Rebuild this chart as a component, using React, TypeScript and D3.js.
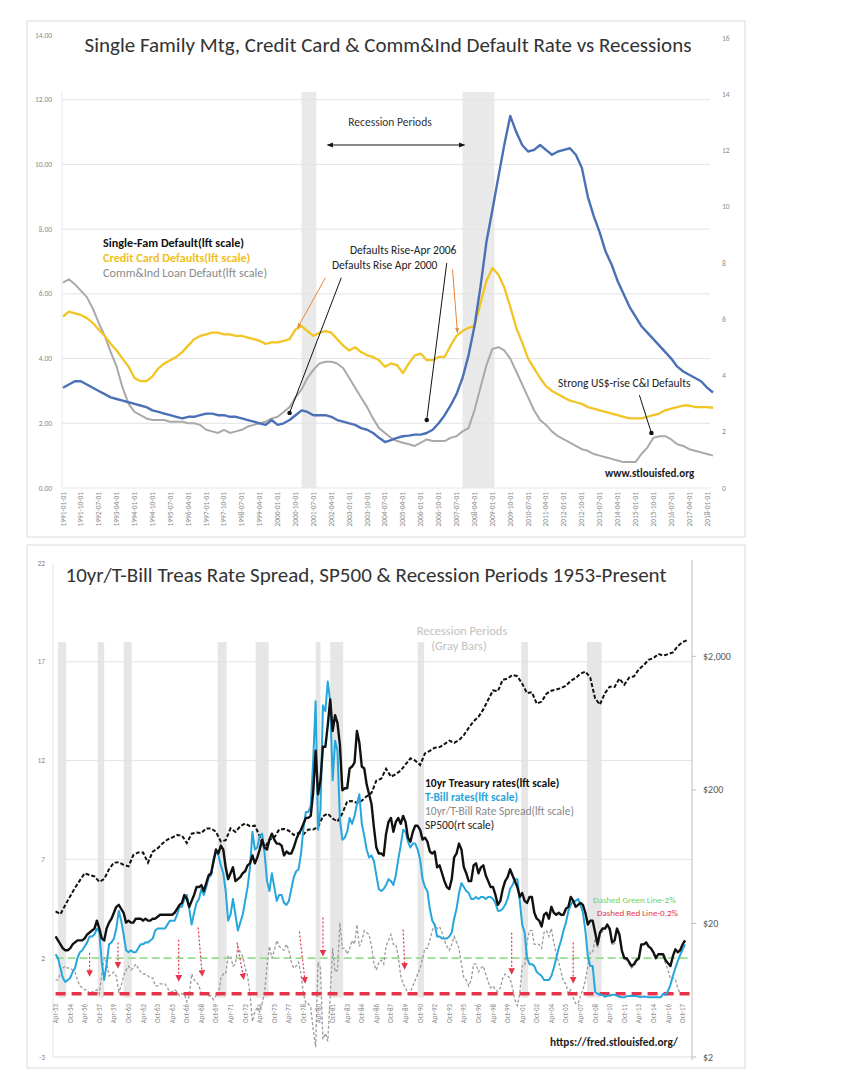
import React from "react";
import * as d3 from "d3";

const FONT = "Carlito, Lato, 'Open Sans', sans-serif";

// ================= TOP CHART DATA (quarterly, 1991Q1 - 2018Q2) =================
const topQuarters = d3.timeMonth.range(new Date(1991, 0, 1), new Date(2018, 6, 1), 3);
const topLabelDates = d3.timeMonth.range(new Date(1991, 0, 1), new Date(2018, 1, 1), 9);
const topLeftTicks = [0, 2, 4, 6, 8, 10, 12, 14];
const topRightTicks = [0, 2, 4, 6, 8, 10, 12, 14, 16];
const topGridTicks = [2, 4, 6, 8, 10, 12];
const topRecessions: [string, string][] = [
  ["2001-01-01", "2001-08-15"],
  ["2007-10-01", "2009-02-01"],
];

const singleFamDefault = [
  3.1, 3.2, 3.3, 3.3, 3.2, 3.1, 3.0, 2.9, 2.8, 2.75, 2.7, 2.65, 2.6, 2.55, 2.5, 2.4,
  2.35, 2.3, 2.25, 2.2, 2.15, 2.2, 2.2, 2.25, 2.3, 2.3, 2.25, 2.25, 2.2, 2.2, 2.15, 2.1,
  2.05, 2.0, 1.95, 2.1, 1.95, 2.0, 2.1, 2.25, 2.4, 2.35, 2.25, 2.25, 2.25, 2.2, 2.1, 2.05,
  2.0, 1.95, 1.85, 1.8, 1.7, 1.55, 1.42, 1.48, 1.55, 1.6, 1.62, 1.65, 1.65, 1.7, 1.8, 2.0,
  2.25, 2.55, 2.9, 3.4, 4.1, 5.0, 6.2, 7.6, 8.6, 9.6, 10.6, 11.5, 11.0, 10.6, 10.4, 10.45,
  10.6, 10.45, 10.3, 10.4, 10.45, 10.5, 10.3, 9.9, 9.0, 8.4, 7.9, 7.3, 6.9, 6.4, 6.0, 5.6,
  5.3, 5.0, 4.8, 4.6, 4.4, 4.2, 4.0, 3.75, 3.6, 3.5, 3.4, 3.3, 3.1, 2.95,
];
const creditCardDefault = [
  5.3, 5.45, 5.4, 5.35, 5.25, 5.1, 4.9, 4.7, 4.45, 4.25, 4.0, 3.75, 3.4, 3.3, 3.3, 3.45,
  3.7, 3.85, 3.95, 4.05, 4.2, 4.4, 4.6, 4.7, 4.75, 4.8, 4.8, 4.75, 4.75, 4.7, 4.7, 4.65,
  4.6, 4.55, 4.45, 4.5, 4.5, 4.55, 4.6, 4.9, 5.0, 4.85, 4.7, 4.8, 4.85, 4.8, 4.6, 4.4,
  4.25, 4.35, 4.2, 4.1, 4.05, 3.95, 3.75, 3.85, 3.8, 3.55, 3.85, 4.1, 4.15, 3.95, 3.95, 4.05,
  4.05, 4.4, 4.7, 4.85, 4.95, 5.0, 5.7, 6.4, 6.8, 6.6, 6.2, 5.6, 4.95, 4.5, 4.0, 3.7,
  3.4, 3.15, 3.0, 2.9, 2.8, 2.7, 2.65, 2.6, 2.5, 2.45, 2.4, 2.35, 2.3, 2.25, 2.2, 2.15,
  2.15, 2.15, 2.2, 2.25, 2.3, 2.4, 2.45, 2.5, 2.55, 2.55, 2.5, 2.5, 2.5, 2.48,
];
const commIndDefault = [
  6.35, 6.45, 6.3, 6.1, 5.9, 5.55, 5.1, 4.7, 4.2, 3.75, 3.1, 2.6, 2.35, 2.25, 2.15, 2.1,
  2.1, 2.1, 2.05, 2.05, 2.05, 2.0, 2.0, 1.95, 1.8, 1.75, 1.7, 1.8, 1.7, 1.75, 1.8, 1.9,
  1.95, 2.0, 2.05, 2.15, 2.2, 2.35, 2.5, 2.8, 3.05, 3.4, 3.65, 3.85, 3.9, 3.9, 3.85, 3.7,
  3.4, 3.1, 2.8, 2.5, 2.15, 1.85, 1.7, 1.55, 1.45, 1.4, 1.35, 1.3, 1.4, 1.5, 1.45, 1.45,
  1.45, 1.55, 1.6, 1.75, 1.85, 2.4, 3.1, 3.8, 4.3, 4.35, 4.25, 4.0, 3.6, 3.2, 2.8, 2.4,
  2.1, 1.95, 1.75, 1.6, 1.5, 1.4, 1.3, 1.2, 1.15, 1.05, 1.0, 0.95, 0.9, 0.85, 0.8, 0.8,
  0.8, 1.05, 1.25, 1.55, 1.6, 1.6, 1.5, 1.35, 1.3, 1.2, 1.15, 1.1, 1.05, 1.0,
];

// top annotations (date, left-scale value)
const topArrows = [
  { kind: "orange", from: ["2002-01-01", 6.5], to: ["2000-11-01", 4.95] },
  { kind: "black", from: ["2002-09-01", 6.5], to: ["2000-07-01", 2.32] },
  { kind: "black", from: ["2007-02-01", 6.95], to: ["2006-04-01", 2.1] },
  { kind: "orange", from: ["2007-05-01", 6.75], to: ["2007-07-15", 4.8] },
  { kind: "black", from: ["2015-03-01", 2.87], to: ["2015-09-01", 1.7] },
];
const topRecessionArrow = { from: "2002-02-01", to: "2007-11-01", value: 10.6 };

// ================= BOTTOM CHART DATA (quarterly, Apr-1953 - Jan-2018) =================
const botQuarters = d3.timeMonth.range(new Date(1953, 3, 1), new Date(2018, 1, 1), 3);
const spDates = d3.timeMonth.range(new Date(1953, 3, 1), new Date(2018, 4, 1), 6);
const botLabelDates = d3.timeMonth.range(new Date(1953, 3, 1), new Date(2017, 11, 1), 18);
const botLeftTicks = [-3, 2, 7, 12, 17, 22];
const botRightTicks = [2, 20, 200, 2000];
const botGridTicks = [7, 12, 17];
const botRecessions: [string, string][] = [
  ["1953-07-01", "1954-05-01"], ["1957-08-01", "1958-04-01"], ["1960-04-01", "1961-02-01"],
  ["1969-12-01", "1970-11-01"], ["1973-11-01", "1975-03-01"], ["1980-01-01", "1980-07-01"],
  ["1981-07-01", "1982-11-01"], ["1990-07-01", "1991-03-01"], ["2001-03-01", "2001-11-01"],
  ["2007-12-01", "2009-06-01"],
];

const tenYear = [
  3.1, 2.9, 2.7,
  2.5, 2.4, 2.4, 2.5, 2.7, 2.8, 2.9, 2.9, 2.9, 3.0, 3.2, 3.3, 3.4, 3.5, 3.9, 3.5,
  3.0, 2.9, 3.5, 3.8, 4.0, 4.3, 4.6, 4.7, 4.5, 4.3, 3.8, 3.9, 3.8, 3.8, 4.0, 4.0,
  4.0, 3.9, 4.0, 3.9, 3.9, 4.0, 4.0, 4.1, 4.2, 4.2, 4.2, 4.2, 4.2, 4.2, 4.3, 4.5,
  4.7, 4.8, 5.2, 5.0, 4.6, 4.9, 5.2, 5.6, 5.6, 5.7, 5.4, 5.8, 6.2, 6.3, 6.9, 7.5,
  7.3, 7.7, 7.5, 6.6, 6.0, 6.3, 6.6, 5.9, 6.0, 6.1, 6.3, 6.4, 6.7, 6.8, 7.2, 6.8,
  7.1, 7.5, 8.0, 7.6, 7.5, 8.0, 8.3, 8.0, 7.8, 7.8, 7.7, 7.2, 7.4, 7.3, 7.3, 7.6,
  8.0, 8.3, 8.5, 8.8, 9.1, 9.1, 9.2, 10.4, 12.5, 10.3, 11.0, 12.7, 12.7, 13.8, 15.1, 13.5,
  14.3, 13.9, 12.8, 10.5, 10.6, 10.6, 11.6, 11.7, 11.9, 13.5, 12.9, 11.7, 11.6, 10.8, 10.3, 9.8,
  8.6, 7.6, 7.3, 7.3, 7.2, 8.3, 8.9, 9.1, 8.4, 8.9, 9.1, 8.8, 9.2, 8.9, 8.1, 7.9,
  8.4, 8.7, 8.7, 8.5, 8.0, 8.1, 7.9, 7.4, 7.3, 7.4, 6.6, 6.7, 6.3, 5.9, 5.6, 5.5,
  6.0, 7.1, 7.3, 7.8, 7.5, 6.6, 6.3, 5.9, 5.9, 6.7, 6.8, 6.3, 6.6, 6.7, 6.2, 5.9,
  5.6, 5.6, 5.2, 4.7, 4.9, 5.5, 5.9, 6.1, 6.5, 6.2, 5.9, 5.6, 5.1, 5.3, 4.9, 4.8,
  5.1, 5.1, 4.3, 4.0, 3.9, 3.6, 4.2, 4.3, 4.0, 4.6, 4.3, 4.2, 4.3, 4.2, 4.2, 4.5,
  4.6, 5.1, 4.9, 4.6, 4.7, 4.8, 4.7, 4.3, 3.7, 3.9, 3.9, 3.3, 2.7, 3.3, 3.5, 3.5,
  3.7, 3.5, 2.8, 2.9, 3.5, 3.2, 2.4, 2.0, 2.0, 1.8, 1.6, 1.7, 1.9, 2.0, 2.7, 2.7,
  2.8, 2.6, 2.5, 2.3, 2.0, 2.2, 2.2, 2.2, 1.9, 1.75, 1.6, 2.1, 2.45, 2.3, 2.4, 2.7,
  2.9,
];
const tBill = [
  2.2, 2.0, 1.5,
  1.0, 0.8, 0.9, 1.0, 1.3, 1.5, 2.0, 2.3, 2.4, 2.6, 2.8, 3.1, 3.1, 3.2, 3.5, 3.3,
  1.8, 0.9, 1.7, 2.7, 2.8, 3.0, 3.5, 4.4, 3.9, 3.2, 2.4, 2.3, 2.4, 2.3, 2.3, 2.5,
  2.7, 2.7, 2.8, 2.8, 2.9, 3.0, 3.4, 3.5, 3.5, 3.5, 3.5, 3.7, 3.9, 3.9, 3.9, 4.2,
  4.6, 4.6, 5.0, 5.2, 4.5, 3.7, 4.3, 4.8, 5.0, 5.5, 5.2, 5.6, 6.1, 6.2, 7.0, 7.4,
  7.2, 6.7, 6.3, 5.4, 3.9, 4.2, 5.0, 4.2, 3.4, 3.8, 4.2, 4.9, 5.6, 6.6, 8.4, 7.5,
  7.6, 8.2, 8.3, 7.3, 5.9, 5.4, 6.3, 5.6, 4.9, 5.2, 5.2, 4.8, 4.7, 4.9, 5.5, 6.1,
  6.4, 6.5, 7.3, 8.6, 9.4, 9.4, 9.7, 12.0, 15.0, 8.5, 9.5, 14.8, 14.5, 16.0, 15.0, 11.0,
  13.0, 12.5, 9.0, 8.0, 8.1, 8.4, 9.1, 8.8, 9.2, 9.8, 10.3, 8.8, 8.2, 7.5, 7.1, 7.2,
  6.9, 6.2, 5.5, 5.4, 5.5, 5.7, 6.0, 5.9, 5.7, 6.2, 7.0, 7.7, 8.5, 8.4, 7.9, 7.6,
  7.8, 7.8, 7.5, 7.0, 6.0, 5.6, 5.4, 4.5, 3.9, 3.7, 3.1, 3.1, 3.0, 3.0, 3.0, 3.1,
  3.3, 4.0, 4.5, 5.3, 5.8, 5.6, 5.4, 5.3, 5.0, 5.0, 5.1, 5.0, 5.1, 5.1, 5.0, 5.1,
  5.1, 5.0, 4.8, 4.4, 4.4, 4.5, 4.7, 5.0, 5.5, 5.7, 6.0, 6.0, 4.9, 3.7, 3.3, 2.0,
  1.7, 1.7, 1.6, 1.3, 1.2, 1.1, 0.9, 0.9, 0.9, 1.1, 1.5, 2.0, 2.5, 2.9, 3.4, 3.8,
  4.4, 4.7, 4.9, 4.9, 5.0, 4.7, 4.3, 3.4, 2.1, 1.6, 1.6, 0.3, 0.2, 0.15, 0.15, 0.05,
  0.1, 0.1, 0.15, 0.15, 0.1, 0.05, 0.02, 0.02, 0.08, 0.09, 0.1, 0.09, 0.09, 0.05, 0.03, 0.06,
  0.05, 0.03, 0.03, 0.02, 0.02, 0.02, 0.02, 0.2, 0.15, 0.35, 0.65, 1.1, 1.5, 1.85, 2.15, 2.45,
  2.7,
];
const rateSpread = [
  0.9, 0.9, 1.2,
  1.5, 1.6, 1.5, 1.5, 1.4, 1.3, 0.9, 0.6, 0.5, 0.4, 0.4, 0.2, 0.3, 0.3, 0.4, 0.2,
  1.2, 2.0, 1.8, 1.1, 1.2, 1.3, 1.1, 0.3, 0.6, 1.1, 1.4, 1.6, 1.4, 1.5, 1.7, 1.5,
  1.3, 1.2, 1.2, 1.1, 1.0, 1.0, 0.6, 0.6, 0.7, 0.7, 0.7, 0.5, 0.3, 0.3, 0.4, 0.3,
  0.1, 0.2, 0.2, -0.2, 0.1, 1.2, 0.9, 0.8, 0.6, 0.2, 0.2, 0.2, 0.1, 0.1, -0.1, 0.1,
  0.1, 1.0, 1.2, 1.2, 2.1, 2.1, 1.6, 1.7, 2.6, 2.3, 2.1, 1.5, 1.1, 0.2, -1.2, -0.7,
  -0.5, -0.7, -0.3, 0.3, 1.6, 2.6, 2.0, 2.4, 2.9, 2.6, 2.5, 2.4, 2.7, 2.4, 1.8, 1.5,
  1.6, 1.8, 1.2, 0.2, -0.3, -0.3, -0.5, -1.6, -2.5, 1.8, 1.5, -2.1, -1.8, -2.2, 0.1, 2.5,
  1.3, 1.4, 3.8, 2.5, 2.5, 2.2, 2.5, 2.9, 2.7, 3.7, 2.6, 2.9, 3.4, 3.3, 3.2, 2.6,
  1.7, 1.4, 1.8, 1.9, 1.7, 2.6, 2.9, 3.2, 2.7, 2.7, 2.1, 1.1, 0.7, 0.5, 0.2, 0.3,
  0.6, 0.9, 1.2, 1.5, 2.0, 2.5, 2.5, 2.9, 3.4, 3.7, 3.5, 3.6, 3.3, 2.9, 2.6, 2.4,
  2.7, 3.1, 2.8, 2.5, 1.7, 1.0, 0.9, 0.6, 0.9, 1.7, 1.7, 1.3, 1.5, 1.6, 1.2, 0.8,
  0.5, 0.6, 0.4, 0.3, 0.5, 1.0, 1.2, 1.1, 1.0, 0.5, -0.1, -0.4, 0.2, 1.6, 1.6, 2.8,
  3.4, 3.4, 2.7, 2.7, 2.7, 2.5, 3.3, 3.4, 3.1, 3.5, 2.8, 2.2, 1.8, 1.3, 0.8, 0.7,
  0.2, 0.4, 0.0, -0.3, -0.3, 0.1, 0.4, 0.9, 1.6, 2.3, 2.3, 3.0, 2.5, 3.15, 3.35, 3.45,
  3.6, 3.4, 2.65, 2.75, 3.4, 3.15, 2.4, 2.0, 1.9, 1.7, 1.5, 1.6, 1.8, 1.95, 2.65, 2.65,
  2.75, 2.6, 2.5, 2.3, 2.0, 2.2, 2.2, 2.0, 1.75, 1.4, 0.95, 1.0, 0.95, 0.45, 0.25, 0.25,
  0.2,
];
// S&P 500, semi-annual (Apr / Oct)
const sp500 = [
  24.6, 23.5, 27.5, 32, 37, 42, 47.5, 46, 45, 41, 43, 51, 57, 57.5, 55, 53.5,
  65, 68, 68, 57, 69, 73, 79.5, 85, 88, 92, 91, 80, 94, 96, 95, 103,
  103, 97, 82, 84, 103, 97, 107, 112, 107, 108, 90, 73, 85, 88, 101, 102,
  99, 92, 95, 93, 101, 101, 106, 127, 133, 122, 116, 133, 164, 165, 160, 166,
  179, 190, 235, 243, 288, 251, 262, 279, 310, 345, 331, 307, 375, 392, 414, 418,
  440, 468, 450, 472, 514, 582, 654, 705, 801, 947, 1112, 1098, 1335, 1363, 1452, 1420,
  1249, 1060, 1077, 885, 917, 1050, 1107, 1130, 1156, 1207, 1310, 1378, 1482, 1539, 1385, 968,
  872, 1057, 1186, 1180, 1363, 1224, 1386, 1418, 1597, 1720, 1883, 1937, 2087, 2024, 2075, 2143,
  2384, 2557, 2650,
];

// red "inversion" markers: date span and left-scale values
const redSignals: [string, number, string, number][] = [
  ["1956-10-01", 2.28, "1956-10-01", 1.16],
  ["1959-09-01", 2.79, "1959-09-01", 1.57],
  ["1965-12-01", 2.94, "1965-12-01", 0.91],
  ["1967-12-01", 3.55, "1968-05-01", 1.16],
  ["1971-12-01", 2.79, "1972-08-01", 1.0],
  ["1978-05-01", 3.35, "1978-12-01", 0.81],
  ["1980-10-01", 4.06, "1980-10-01", 2.18],
  ["1989-01-01", 3.45, "1989-03-01", 1.52],
  ["2000-03-01", 3.29, "2000-03-01", 1.26],
  ["2006-07-01", 2.79, "2006-07-01", 0.81],
];
const greenLineValue = 2;
const redLineValue = 0.2;

const pd = (s: string) => d3.timeParse("%Y-%m-%d")(s) as Date;

export default function App() {
  // ---------- top scales ----------
  const xTop = d3.scaleTime().domain([new Date(1991, 0, 1), new Date(2018, 3, 1)]).range([63, 713]);
  const yTopL = d3.scaleLinear().domain([0, 14]).range([488, 35]);
  const yTopR = d3.scaleLinear().domain([0, 16]).range([488, 38]);
  const topLine = (vals: number[]) =>
    d3.line<number>().x((_, i) => xTop(topQuarters[i])).y((v) => yTopL(v))(
      vals.slice(0, topQuarters.length)
    ) || "";

  // ---------- bottom scales ----------
  const xBot = d3.scaleTime().domain([new Date(1953, 6, 1), new Date(2007, 11, 1)]).range([58, 587]);
  const yBotL = d3.scaleLinear().domain([-3, 22]).range([1057, 563]);
  const yBotR = d3.scaleLog().domain([2, 10000]).range([1057, 563]);
  const botLine = (vals: number[]) =>
    d3.line<number>().x((_, i) => xBot(botQuarters[i])).y((v) => yBotL(v))(
      vals.slice(0, botQuarters.length)
    ) || "";
  const spLine =
    d3.line<number>().x((_, i) => xBot(spDates[i])).y((v) => yBotR(v))(sp500.slice(0, spDates.length)) || "";

  const fmtTop = d3.timeFormat("%Y-%m-%d");
  const fmtBot = d3.timeFormat("%b-%y");
  const botPlotRight = 692;
  const botPlotLeft = 53;

  return (
    <svg
      width={842}
      height={1076}
      style={{ position: "absolute", left: 0, top: 0, background: "#fff" }}
      fontFamily={FONT}
    >
      <defs>
        <marker id="triBlack" viewBox="0 0 10 10" refX="9" refY="5" markerWidth="6" markerHeight="6" orient="auto-start-reverse">
          <path d="M0,1 L10,5 L0,9 z" fill="#111" />
        </marker>
        <marker id="triOrange" viewBox="0 0 10 10" refX="9" refY="5" markerWidth="5" markerHeight="5" orient="auto">
          <path d="M0,1 L10,5 L0,9 z" fill="#e8843c" />
        </marker>
        <marker id="dotBlack" viewBox="0 0 10 10" refX="5" refY="5" markerWidth="5" markerHeight="5">
          <circle cx="5" cy="5" r="4.5" fill="#111" />
        </marker>
        <marker id="triRed" viewBox="0 0 10 10" refX="7" refY="5" markerWidth="5.5" markerHeight="5.5" orient="auto">
          <path d="M0,0 L10,5 L0,10 z" fill="#e8334a" />
        </marker>
      </defs>

      {/* ================= TOP PANEL ================= */}
      <rect x={27} y={21} width={718} height={516} fill="#fff" stroke="#d9d9d9" />
      {topRecessions.map(([a, b], i) => (
        <rect key={i} x={xTop(pd(a))} y={92} width={xTop(pd(b)) - xTop(pd(a))} height={488 - 92} fill="#e9e9e9" />
      ))}
      {topGridTicks.map((t) => (
        <line key={t} x1={62} x2={710} y1={yTopL(t)} y2={yTopL(t)} stroke="#e3e3e3" />
      ))}
      <line x1={62} x2={62} y1={92} y2={488} stroke="#e6e6e6" />
      <line x1={62} x2={710} y1={488} y2={488} stroke="#e6e6e6" />
      {topLeftTicks.map((t) => (
        <text key={t} x={52} y={yTopL(t)} fontSize={7.5} fill="#8a8a8a" textAnchor="end" dominantBaseline="central">
          {t.toFixed(2)}
        </text>
      ))}
      {topRightTicks.map((t) => (
        <text key={t} x={722} y={yTopR(t)} fontSize={7.5} fill="#8a8a8a" textAnchor="start" dominantBaseline="central">
          {t}
        </text>
      ))}
      {topLabelDates.map((d, i) => (
        <text
          key={i}
          transform={`translate(${xTop(d)},492) rotate(-90)`}
          fontSize={7.4}
          fill="#8a8a8a"
          textAnchor="end"
          dominantBaseline="central"
        >
          {fmtTop(d)}
        </text>
      ))}
      <path d={topLine(commIndDefault)} fill="none" stroke="#a9a9a9" strokeWidth={2} strokeLinejoin="round" />
      <path d={topLine(creditCardDefault)} fill="none" stroke="#f2c424" strokeWidth={2.3} strokeLinejoin="round" />
      <path d={topLine(singleFamDefault)} fill="none" stroke="#4a70b6" strokeWidth={2.4} strokeLinejoin="round" />

      <text x={388} y={52} fontSize={21} fill="#333" textAnchor="middle">
        Single Family Mtg, Credit Card &amp; Comm&amp;Ind Default Rate vs Recessions
      </text>
      <text x={390} y={126} fontSize={11.5} fill="#333" textAnchor="middle">Recession Periods</text>
      <line
        x1={xTop(pd(topRecessionArrow.from))}
        x2={xTop(pd(topRecessionArrow.to))}
        y1={yTopL(topRecessionArrow.value)}
        y2={yTopL(topRecessionArrow.value)}
        stroke="#111"
        strokeWidth={1}
        markerStart="url(#triBlack)"
        markerEnd="url(#triBlack)"
      />
      <text x={103} y={247} fontSize={12.2} fontWeight="bold" fill="#111">Single-Fam Default(lft scale)</text>
      <text x={103} y={262} fontSize={12.2} fontWeight="bold" fill="#f0c020">Credit Card Defaults(lft scale)</text>
      <text x={103} y={277} fontSize={12.2} fill="#8a8a8a">Comm&amp;Ind Loan Defaut(lft scale)</text>
      <text x={350} y={254} fontSize={11.5} fill="#222">Defaults Rise-Apr 2006</text>
      <text x={332} y={269} fontSize={11.5} fill="#222">Defaults Rise Apr 2000</text>
      <text x={558} y={387} fontSize={11.5} fill="#222">Strong US$-rise  C&amp;I Defaults</text>
      <text x={605} y={477} fontSize={11} fontWeight="bold" fill="#222">www.stlouisfed.org</text>
      {topArrows.map((a, i) => (
        <line
          key={i}
          x1={xTop(pd(a.from[0] as string))}
          y1={yTopL(a.from[1] as number)}
          x2={xTop(pd(a.to[0] as string))}
          y2={yTopL(a.to[1] as number)}
          stroke={a.kind === "orange" ? "#e8843c" : "#111"}
          strokeWidth={1}
          markerEnd={a.kind === "orange" ? "url(#triOrange)" : "url(#dotBlack)"}
        />
      ))}

      {/* ================= BOTTOM PANEL ================= */}
      <rect x={27} y={545} width={718} height={523} fill="#fff" stroke="#d9d9d9" />
      {botRecessions.map(([a, b], i) => (
        <rect
          key={i}
          x={xBot(pd(a))}
          y={yBotL(18)}
          width={xBot(pd(b)) - xBot(pd(a))}
          height={yBotL(0) - yBotL(18)}
          fill="#e6e6e6"
        />
      ))}
      {botGridTicks.map((t) => (
        <line key={t} x1={botPlotLeft + 10} x2={botPlotRight} y1={yBotL(t)} y2={yBotL(t)} stroke="#e3e3e3" />
      ))}
      <line x1={botPlotLeft} x2={botPlotLeft} y1={563} y2={1057} stroke="#e6e6e6" />
      <line x1={botPlotLeft} x2={botPlotRight} y1={1057} y2={1057} stroke="#e0e0e0" />
      <line x1={botPlotRight} x2={botPlotRight} y1={560} y2={1060} stroke="#bdbdbd" />
      {botLeftTicks.map((t) => (
        <text key={t} x={45} y={yBotL(t)} fontSize={7.5} fill="#8a8a8a" textAnchor="end" dominantBaseline="central">
          {t}
        </text>
      ))}
      {botRightTicks.map((t) => (
        <g key={t}>
          <line x1={botPlotRight} x2={botPlotRight + 4} y1={yBotR(t)} y2={yBotR(t)} stroke="#bdbdbd" />
          <text x={botPlotRight + 11} y={yBotR(t)} fontSize={10} fill="#555" textAnchor="start" dominantBaseline="central">
            {"$" + d3.format(",")(t)}
          </text>
        </g>
      ))}
      {botLabelDates.map((d, i) => (
        <text
          key={i}
          transform={`translate(${xBot(d)},1004) rotate(-90)`}
          fontSize={7}
          fill="#8a8a8a"
          textAnchor="end"
          dominantBaseline="central"
        >
          {fmtBot(d)}
        </text>
      ))}
      <line
        x1={xBot(new Date(1953, 3, 1))}
        x2={botPlotRight}
        y1={yBotL(greenLineValue)}
        y2={yBotL(greenLineValue)}
        stroke="#97de8f"
        strokeWidth={1.8}
        strokeDasharray="8 4"
      />
      <path d={botLine(rateSpread)} fill="none" stroke="#9b9b9b" strokeWidth={1.3} strokeDasharray="3 2" />
      <line
        x1={xBot(new Date(1953, 3, 1))}
        x2={botPlotRight}
        y1={yBotL(redLineValue)}
        y2={yBotL(redLineValue)}
        stroke="#e8334a"
        strokeWidth={3.5}
        strokeDasharray="10 6"
      />
      <path d={spLine} fill="none" stroke="#111" strokeWidth={2} strokeDasharray="4 2" />
      <path d={botLine(tBill)} fill="none" stroke="#27a6dc" strokeWidth={2} strokeLinejoin="round" />
      <path d={botLine(tenYear)} fill="none" stroke="#111" strokeWidth={2.4} strokeLinejoin="round" />
      {redSignals.map(([d0, v0, d1, v1], i) => (
        <line
          key={i}
          x1={xBot(pd(d0))}
          y1={yBotL(v0)}
          x2={xBot(pd(d1))}
          y2={yBotL(v1)}
          stroke="#e8334a"
          strokeWidth={1.2}
          strokeDasharray="2 2"
          markerEnd="url(#triRed)"
        />
      ))}
      <text x={366} y={582} fontSize={21} fill="#333" textAnchor="middle">
        10yr/T-Bill Treas Rate Spread, SP500 &amp; Recession Periods 1953-Present
      </text>
      <text x={462} y={635} fontSize={12.5} fill="#c2c2c2" textAnchor="middle">Recession Periods</text>
      <text x={459} y={650} fontSize={12.5} fill="#c2c2c2" textAnchor="middle">(Gray Bars)</text>
      <text x={425} y={787} fontSize={11.5} fontWeight="bold" fill="#111">10yr Treasury rates(lft scale)</text>
      <text x={425} y={801} fontSize={11.5} fontWeight="bold" fill="#27a6dc">T-Bill rates(lft scale)</text>
      <text x={425} y={815} fontSize={11.5} fill="#8a8a8a">10yr/T-Bill Rate Spread(lft scale)</text>
      <text x={425} y={829} fontSize={11.5} fill="#222">SP500(rt scale)</text>
      <text x={593} y={903} fontSize={9} fill="#6fd06a">Dashed Green Line-2%</text>
      <text x={597} y={916} fontSize={9} fill="#e8334a">Dashed Red Line-0.2%</text>
      <text x={550} y={1046} fontSize={11.3} fontWeight="bold" fill="#222">https://fred.stlouisfed.org/</text>
    </svg>
  );
}
